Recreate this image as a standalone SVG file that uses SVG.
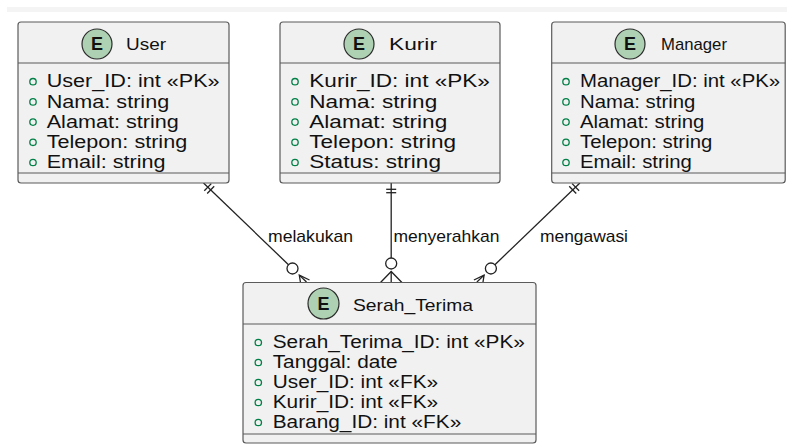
<svg xmlns="http://www.w3.org/2000/svg" width="787" height="445" viewBox="0 0 787 445">
<style>
.box{fill:#F1F1F1;stroke:#5b5b5b;stroke-width:1.2}
.sep{stroke:#5b5b5b;stroke-width:1.2}
.spot{fill:#ADD1B2;stroke:#2b2b2b;stroke-width:1.2}
.spotE{font-family:"Liberation Sans",Arial,sans-serif;font-size:18px;font-weight:bold;text-anchor:middle;fill:#111}
.title{font-family:"Liberation Sans",Arial,sans-serif;font-size:17px;fill:#111}
.row{font-family:"Liberation Sans",Arial,sans-serif;font-size:18.5px;fill:#111}
.bul{fill:none;stroke:#038048;stroke-width:1.3}
.conn{stroke:#222;stroke-width:1.3;fill:none}
.lbl{font-family:"Liberation Sans",Arial,sans-serif;font-size:17px;fill:#111}
</style>
<rect x="0" y="0" width="787" height="445" fill="#ffffff"/>
<rect x="7" y="7" width="780" height="5" fill="#f4f4f4"/>

<g id="connectors">
  <!-- User -> Serah_Terima -->
  <line class="conn" x1="203.5" y1="183" x2="288.5" y2="264.7"/>
  <line class="conn" x1="211.3" y1="183.6" x2="204.3" y2="190.8"/>
  <line class="conn" x1="214.2" y1="186.3" x2="207.2" y2="193.5"/>
  <circle class="conn" cx="292.5" cy="268.5" r="5.5"/>
  <polyline class="conn" points="300.8,284.5 299.3,275.1 309.5,280"/>
  <line class="conn" x1="299.3" y1="275.1" x2="306.5" y2="282"/>
  <!-- Kurir -> Serah_Terima -->
  <line class="conn" x1="391.2" y1="183" x2="391.2" y2="258"/>
  <line class="conn" x1="386.2" y1="189.3" x2="396.2" y2="189.3"/>
  <line class="conn" x1="386.2" y1="192.7" x2="396.2" y2="192.7"/>
  <circle class="conn" cx="391.2" cy="263.5" r="5.5"/>
  <polyline class="conn" points="380.5,282.5 391.2,271.5 401.9,282.5"/>
  <line class="conn" x1="391.2" y1="271.5" x2="391.2" y2="282.5"/>
  <!-- Manager -> Serah_Terima -->
  <line class="conn" x1="579.9" y1="183" x2="494.9" y2="264.7"/>
  <line class="conn" x1="572.1" y1="183.6" x2="579.1" y2="190.8"/>
  <line class="conn" x1="569.2" y1="186.3" x2="576.2" y2="193.5"/>
  <circle class="conn" cx="490.9" cy="268.5" r="5.5"/>
  <polyline class="conn" points="482.6,284.5 484.1,275.1 473.9,280"/>
  <line class="conn" x1="484.1" y1="275.1" x2="476.9" y2="282"/>
  <text class="lbl" x="268" y="241.7" textLength="85" lengthAdjust="spacingAndGlyphs">melakukan</text>
  <text class="lbl" x="393.5" y="241.7" textLength="106" lengthAdjust="spacingAndGlyphs">menyerahkan</text>
  <text class="lbl" x="540" y="241.7" textLength="88" lengthAdjust="spacingAndGlyphs">mengawasi</text>
</g>

<g id="user">
  <rect class="box" x="18" y="22" width="211" height="161" rx="3"/>
  <line class="sep" x1="18" y1="63" x2="229" y2="63"/>
  <line class="sep" x1="18" y1="173" x2="229" y2="173"/>
  <circle class="spot" cx="97" cy="44" r="15"/>
  <text class="spotE" x="97" y="50.4">E</text>
  <text class="title" x="126" y="50" textLength="40" lengthAdjust="spacingAndGlyphs">User</text>
  <circle class="bul" cx="33" cy="81.7" r="3.2"/>
  <circle class="bul" cx="33" cy="101.9" r="3.2"/>
  <circle class="bul" cx="33" cy="122.1" r="3.2"/>
  <circle class="bul" cx="33" cy="142.3" r="3.2"/>
  <circle class="bul" cx="33" cy="162.5" r="3.2"/>
  <g transform="translate(46.7 0) scale(1.168 1)">
    <text class="row" x="0" y="87.5">User_ID: int «PK»</text>
    <text class="row" x="0" y="107.7">Nama: string</text>
    <text class="row" x="0" y="127.9">Alamat: string</text>
    <text class="row" x="0" y="148.1">Telepon: string</text>
    <text class="row" x="0" y="168.3">Email: string</text>
  </g>
</g>

<g id="kurir">
  <rect class="box" x="280" y="22" width="220" height="161" rx="3"/>
  <line class="sep" x1="280" y1="63" x2="500" y2="63"/>
  <line class="sep" x1="280" y1="173" x2="500" y2="173"/>
  <circle class="spot" cx="359" cy="44" r="15"/>
  <text class="spotE" x="359" y="50.4">E</text>
  <text class="title" x="389" y="50" textLength="48" lengthAdjust="spacingAndGlyphs">Kurir</text>
  <circle class="bul" cx="295" cy="81.7" r="3.2"/>
  <circle class="bul" cx="295" cy="101.9" r="3.2"/>
  <circle class="bul" cx="295" cy="122.1" r="3.2"/>
  <circle class="bul" cx="295" cy="142.3" r="3.2"/>
  <circle class="bul" cx="295" cy="162.5" r="3.2"/>
  <g transform="translate(309.3 0) scale(1.22 1)">
    <text class="row" x="0" y="87.5">Kurir_ID: int «PK»</text>
    <text class="row" x="0" y="107.7">Nama: string</text>
    <text class="row" x="0" y="127.9">Alamat: string</text>
    <text class="row" x="0" y="148.1">Telepon: string</text>
    <text class="row" x="0" y="168.3">Status: string</text>
  </g>
</g>

<g id="manager">
  <rect class="box" x="551.7" y="22" width="233.5" height="161" rx="3"/>
  <line class="sep" x1="551.7" y1="63" x2="785.2" y2="63"/>
  <line class="sep" x1="551.7" y1="173" x2="785.2" y2="173"/>
  <circle class="spot" cx="630" cy="44" r="15"/>
  <text class="spotE" x="630" y="50.4">E</text>
  <text class="title" x="661" y="50" textLength="66" lengthAdjust="spacingAndGlyphs">Manager</text>
  <circle class="bul" cx="566" cy="81.7" r="3.2"/>
  <circle class="bul" cx="566" cy="101.9" r="3.2"/>
  <circle class="bul" cx="566" cy="122.1" r="3.2"/>
  <circle class="bul" cx="566" cy="142.3" r="3.2"/>
  <circle class="bul" cx="566" cy="162.5" r="3.2"/>
  <g transform="translate(580 0) scale(1.10 1)">
    <text class="row" x="0" y="87.5">Manager_ID: int «PK»</text>
    <text class="row" x="0" y="107.7">Nama: string</text>
    <text class="row" x="0" y="127.9">Alamat: string</text>
    <text class="row" x="0" y="148.1">Telepon: string</text>
    <text class="row" x="0" y="168.3">Email: string</text>
  </g>
</g>

<g id="serah_terima">
  <rect class="box" x="243" y="282.5" width="293" height="160.5" rx="3"/>
  <line class="sep" x1="243" y1="324" x2="536" y2="324"/>
  <line class="sep" x1="243" y1="434" x2="536" y2="434"/>
  <circle class="spot" cx="323.5" cy="303.5" r="15.5"/>
  <text class="spotE" x="323.5" y="309.9">E</text>
  <text class="title" x="353" y="310.5" textLength="120" lengthAdjust="spacingAndGlyphs">Serah_Terima</text>
  <circle class="bul" cx="258.3" cy="342.5" r="3.2"/>
  <circle class="bul" cx="258.3" cy="362.5" r="3.2"/>
  <circle class="bul" cx="258.3" cy="382.5" r="3.2"/>
  <circle class="bul" cx="258.3" cy="402.5" r="3.2"/>
  <circle class="bul" cx="258.3" cy="422.5" r="3.2"/>
  <g transform="translate(272.7 0) scale(1.125 1)">
    <text class="row" x="0" y="348.3">Serah_Terima_ID: int «PK»</text>
    <text class="row" x="0" y="368.3">Tanggal: date</text>
    <text class="row" x="0" y="388.3">User_ID: int «FK»</text>
    <text class="row" x="0" y="408.3">Kurir_ID: int «FK»</text>
    <text class="row" x="0" y="428.3">Barang_ID: int «FK»</text>
  </g>
</g>
</svg>
